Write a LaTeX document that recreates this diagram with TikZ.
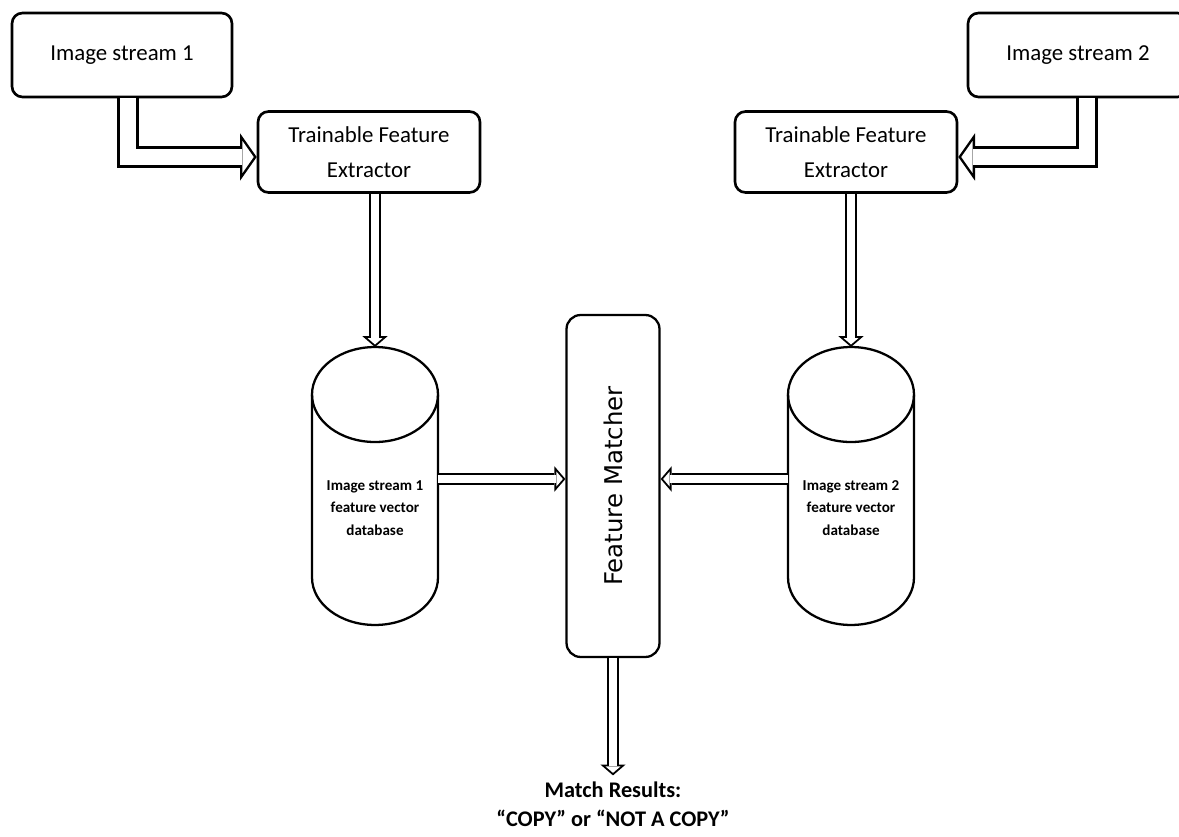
\documentclass[tikz,border=0pt]{standalone}
\usepackage{fontspec}
\setmainfont{Carlito}
\newfontfamily\matcherfont{DejaVu Sans}
\usepackage{graphicx}
\usepackage{tikz}
\usetikzlibrary{arrows.meta}

\begin{document}
\begin{tikzpicture}[x=0.02cm,y=-0.02cm]
\tikzstyle{box} =[draw, rounded corners=6pt, line width=1.5pt, align=center, font=\fontsize{13}{19.8}\selectfont]
\tikzstyle{db} =[rectangle, outer sep=0pt, minimum width=2.52cm, minimum height=5.56cm]
\tikzstyle{dbtext} =[align=center, yshift=-0.44cm, font=\bfseries\fontsize{8.6}{13}\selectfont]
\tikzstyle{cyl} =[line width=1.3pt]
\tikzset{wide arrow/.style={draw=white, line width=9.6pt, shorten >=1.71pt,
  arrows={-Triangle[length=6.39pt,width=18.2pt,line width=0pt]},
  preaction={draw=black, line width=12.4pt, shorten >=0pt,
  arrows={-Triangle[length=9.5pt,width=27pt,line width=0pt]}}}}
\tikzset{thin arrow/.style={draw=white, line width=4.5pt, shorten >=1.45pt,
  arrows={-Triangle[length=3.65pt,width=8.5pt,line width=0pt]},
  preaction={draw=black, line width=6.7pt, shorten >=0pt,
  arrows={-Triangle[length=6.2pt,width=14.4pt,line width=0pt]}}}}

\clip (0,0) rectangle (1179,837);

\node[box, minimum width=4.4cm, minimum height=1.68cm](is1) at (122,55){Image stream 1};
\node[box, minimum width=4.4cm, minimum height=1.68cm](is2) at (1078,55){Image stream 2};
\node[box, minimum width=4.44cm, minimum height=1.62cm](fe1) at (369,152){Trainable Feature\\Extractor};
\node[box, minimum width=4.44cm, minimum height=1.62cm](fe2) at (846,152){Trainable Feature\\Extractor};

\node[db, label={[dbtext]center:Image stream 1\\feature vector\\database}](db1) at (375,486){};
\node[db, label={[dbtext]center:Image stream 2\\feature vector\\database}](db2) at (851,486){};

% cylinders
\draw[cyl] ([yshift=-0.95cm]db1.north) ellipse [x radius=1.26cm, y radius=0.95cm];
\draw[cyl] ([yshift=-0.95cm]db1.north west) -- ([yshift=0.95cm]db1.south west)
  arc [start angle=180, end angle=360, x radius=1.26cm, y radius=0.95cm] -- ([yshift=-0.95cm]db1.north east);
\draw[cyl] ([yshift=-0.95cm]db2.north) ellipse [x radius=1.26cm, y radius=0.95cm];
\draw[cyl] ([yshift=-0.95cm]db2.north west) -- ([yshift=0.95cm]db2.south west)
  arc [start angle=180, end angle=360, x radius=1.26cm, y radius=0.95cm] -- ([yshift=-0.95cm]db2.north east);

\node[draw, rounded corners=8pt, line width=1.3pt, minimum width=1.86cm, minimum height=6.84cm](fm) at (613,486)
  {\rotatebox{90}{\matcherfont\fontsize{13.9}{16}\selectfont Feature Matcher}};

\node[align=center, font=\bfseries\fontsize{12.7}{16.5}\selectfont](result) at (613,804){Match Results:\\“COPY” or “NOT A COPY”};

\draw[wide arrow] ([xshift=0.12cm]is1.south) |- ([yshift=-0.1cm]fe1.west);
\draw[wide arrow] ([xshift=0.18cm]is2.south) |- ([yshift=-0.1cm]fe2.east);
\draw[thin arrow] (fe1.south -| db1.north) -- (db1.north);
\draw[thin arrow] (fe2.south -| db2.north) -- (db2.north);
\draw[thin arrow] ([yshift=0.14cm]db1.east) -- ([yshift=0.14cm]db1.east -| fm.west);
\draw[thin arrow] ([yshift=0.14cm]db2.west) -- ([yshift=0.14cm]db2.west -| fm.east);
\draw[thin arrow] (fm.south) -- (result.north);
\end{tikzpicture}
\end{document}
